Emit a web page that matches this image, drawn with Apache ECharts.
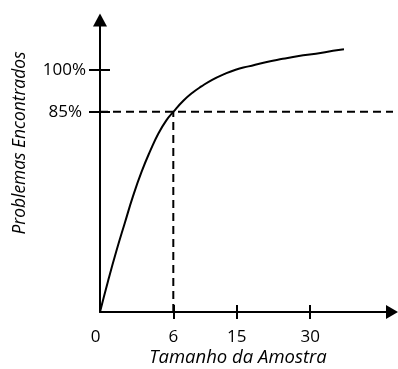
<!DOCTYPE html>
<html>
<head>
<meta charset="utf-8">
<script src="https://cdn.jsdelivr.net/npm/echarts@6/dist/echarts.min.js"></script>
<style>
  html, body { margin: 0; padding: 0; background: #fff; }
  #chart { width: 398px; height: 369px; }
</style>
</head>
<body>
<div id="chart"></div>
<script>
// Schematic saturation curve: problems found vs. sample size.
// Axes are drawn on a schematic scale, so each tick label has its own position.
const xTickLabels = ['0', '6', '15', '30'];
const xTickAt = [0, 6, 11.2, 17.2];
const yTickLabels = ['85%', '100%'];
const yTickAt = [85, 102.9];

const xTitle = 'Tamanho da Amostra';
const yTitle = 'Problemas Encontrados';

const xMax = 23.9;
const yMax = 124;

// Reference level and the sample size where the curve reaches it
const refLevel = 85;
const refSample = 6;

// Curve points on the schematic scale
const curveX = [0, 0.66, 1.34, 2.03, 2.71, 3.40, 4.11, 4.79, 5.43, 6.0, 6.82, 7.54, 8.30, 9.18, 10.11, 11.10, 12.16, 13.56, 14.96, 16.27, 17.67, 19.07, 19.97];
const curveY = [0, 13.2, 25.9, 37.8, 49.3, 59.5, 68.4, 75.9, 81.4, 85.0, 89.7, 93.0, 95.8, 98.6, 100.9, 102.9, 104.3, 106.1, 107.5, 108.7, 109.7, 110.9, 111.6];

const font = 'Open Sans';
const titleFont = 'Open Sans';
const ink = '#000';

const labelOf = (vals, labels) => v => {
  const i = vals.findIndex(t => Math.abs(t - v) < 1e-6);
  return i >= 0 ? labels[i] : '';
};

const chart = echarts.init(document.getElementById('chart'), null, { renderer: 'canvas' });

const baseX = { type: 'value', min: 0, max: xMax, splitLine: { show: false } };
const baseY = { type: 'value', min: 0, max: yMax, splitLine: { show: false } };

const tickLine = { color: ink, width: 2 };
const labelStyle = { fontFamily: font, fontSize: 17, color: ink };

chart.setOption({
  animation: false,
  backgroundColor: '#fff',
  grid: { left: 100, top: 20, right: 6, bottom: 57, containLabel: false },
  xAxis: [
    Object.assign({}, baseX, {
      axisLine: { show: true, lineStyle: { color: ink, width: 2 }, symbol: ['none', 'triangle'], symbolSize: [14, 12] },
      axisTick: { show: true, length: 7, lineStyle: tickLine, customValues: xTickAt.slice(1) },
      axisLabel: Object.assign({
        show: true, margin: 17, customValues: xTickAt,
        formatter: v => {
          const s = labelOf(xTickAt, xTickLabels)(v);
          return v === 0 ? '{o|' + s + '}' : s;
        },
        rich: { o: Object.assign({ padding: [0, 9, 0, 0] }, labelStyle) }
      }, labelStyle)
    }),
    Object.assign({}, baseX, {
      position: 'bottom',
      axisLine: { show: false },
      axisTick: { show: true, inside: true, length: 7, lineStyle: tickLine, customValues: xTickAt.slice(1) },
      axisLabel: { show: false }
    })
  ],
  yAxis: [
    Object.assign({}, baseY, {
      axisLine: { show: true, lineStyle: { color: ink, width: 2 }, symbol: ['none', 'triangle'], symbolSize: [14, 13] },
      axisTick: { show: true, length: 11, lineStyle: tickLine, customValues: yTickAt },
      axisLabel: Object.assign({
        show: true, margin: 14, customValues: yTickAt,
        formatter: v => {
          const s = labelOf(yTickAt, yTickLabels)(v);
          return v === refLevel ? '{p|' + s + '}' : s;
        },
        rich: { p: Object.assign({ padding: [0, 4, 0, 0] }, labelStyle) }
      }, labelStyle)
    }),
    Object.assign({}, baseY, {
      position: 'left',
      axisLine: { show: false },
      axisTick: { show: true, inside: true, length: 10, lineStyle: tickLine, customValues: yTickAt },
      axisLabel: { show: false }
    })
  ],
  graphic: [
    {
      type: 'text', x: 238, y: 358,
      style: { text: xTitle, fontFamily: titleFont, fontStyle: 'italic', fontSize: 18.5, fill: ink, align: 'center', verticalAlign: 'middle' }
    },
    {
      type: 'text', x: 20, y: 143, rotation: Math.PI / 2,
      style: { text: yTitle, fontFamily: titleFont, fontStyle: 'italic', fontSize: 17.4, fill: ink, align: 'center', verticalAlign: 'middle' }
    }
  ],
  series: [
    {
      type: 'line',
      data: [[0, refLevel], [xMax + 1, refLevel]],
      symbol: 'none',
      clip: false,
      lineStyle: { color: ink, width: 2, type: [8, 5] },
      silent: true
    },
    {
      type: 'line',
      data: [[refSample, 0], [refSample, refLevel]],
      symbol: 'none',
      lineStyle: { color: ink, width: 2, type: [8, 5] },
      silent: true
    },
    {
      type: 'line',
      data: curveX.map((x, i) => [x, curveY[i]]),
      smooth: 0.5,
      symbol: 'none',
      lineStyle: { color: ink, width: 2 },
      silent: true,
      z: 3
    }
  ]
});
</script>
</body>
</html>
